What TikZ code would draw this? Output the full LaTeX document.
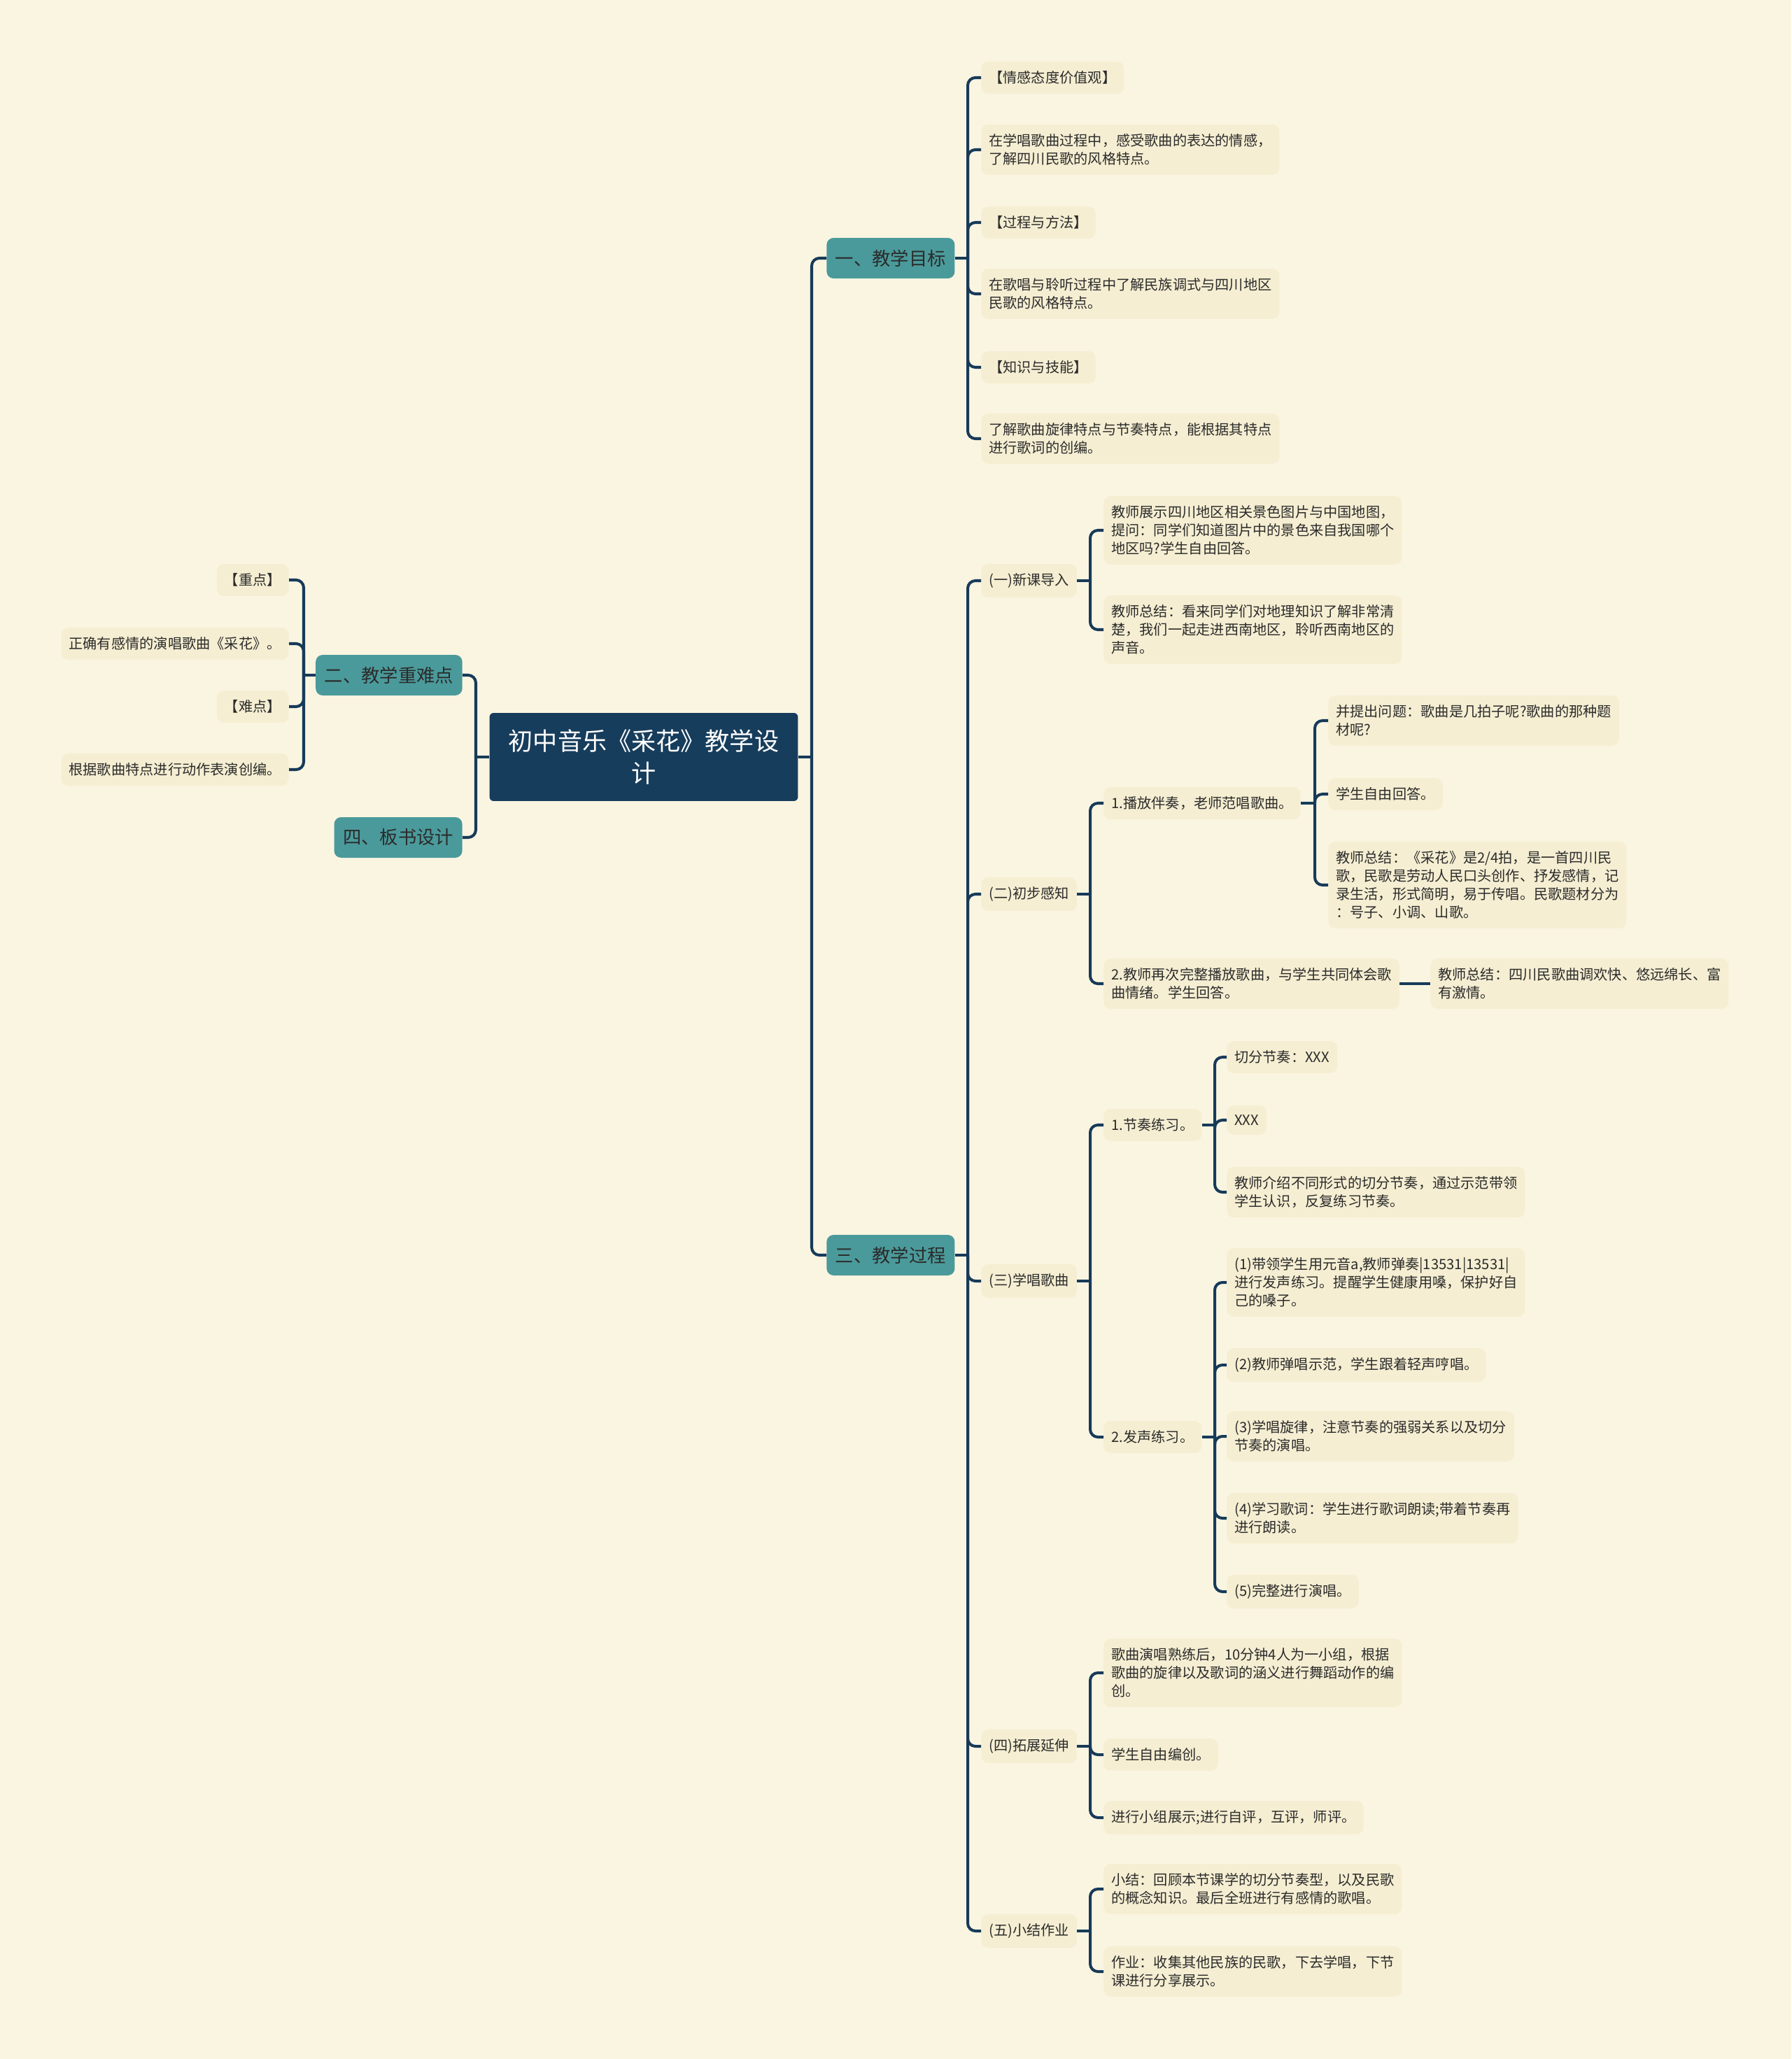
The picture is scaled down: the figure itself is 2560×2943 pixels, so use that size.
\documentclass[tikz,border=0pt]{standalone}
\usepackage{fontspec}
\setmainfont{Noto Sans CJK SC}
\definecolor{bgc}{HTML}{FAF5E1}
\definecolor{leafc}{HTML}{F5EED2}
\definecolor{tealc}{HTML}{4B9A9B}
\definecolor{rootc}{HTML}{173D5C}
\definecolor{linec}{HTML}{173A59}
\definecolor{textc}{HTML}{2B2B2B}
\begin{document}
\begin{tikzpicture}[x=0.02cm,y=-0.02cm,
  rootbox/.style={fill=rootc,text=white,rounded corners=0.12cm,minimum width=8.82cm,minimum height=2.52cm,
    text width=7.9cm,align=center,font=\fontsize{20}{26.7}\selectfont},
  branch/.style={fill=tealc,text=textc,rounded corners=0.2cm,inner xsep=0.25cm,minimum height=1.16cm,
    font=\fontsize{15}{18}\selectfont},
  leaf/.style={fill=leafc,text=textc,rounded corners=0.2cm,inner xsep=0.22cm,inner ysep=0.27cm,
    align=left,anchor=west,font=\fontsize{11.5}{14.8}\selectfont},
  lleaf/.style={leaf,anchor=east},
  link/.style={draw=linec,line width=2.3pt,rounded corners=0.22cm}]
  \fill[bgc] (0,0) rectangle (2560,2943);
  \useasboundingbox (0,0) rectangle (2560,2943);
  % centre and main branches
  \node[rootbox] (root) at (920,1082) {初中音乐《采花》教学设\\计};
  \node[branch,anchor=west] (goal) at (1181,369) {一、教学目标};
  \node[branch,anchor=east] (key) at (661,965) {二、教学重难点};
  \node[branch,anchor=east] (board) at (661,1197) {四、板书设计};
  \node[branch,anchor=west] (proc) at (1181,1794) {三、教学过程};
  \coordinate (jR) at (1160,1082);
  \coordinate (jL) at (680,1082);
  \draw[link] (root.east) -- (jR);
  \draw[link] (root.west) -- (jL);
  \foreach \c in {goal,proc} \draw[link] (jR) |- (\c.west);
  \foreach \c in {key,board} \draw[link] (jL) |- (\c.east);
  % 一、教学目标
  \node[leaf] (g1) at (1402,111) {【情感态度价值观】};
  \node[leaf] (g2) at (1402,214) {在学唱歌曲过程中，感受歌曲的表达的情感，\\了解四川民歌的风格特点。};
  \node[leaf] (g3) at (1402,318) {【过程与方法】};
  \node[leaf] (g4) at (1402,420) {在歌唱与聆听过程中了解民族调式与四川地区\\民歌的风格特点。};
  \node[leaf] (g5) at (1402,525) {【知识与技能】};
  \node[leaf] (g6) at (1402,627) {了解歌曲旋律特点与节奏特点，能根据其特点\\进行歌词的创编。};
  \coordinate (jG) at (1383,369);
  \draw[link] (goal.east) -- (jG);
  \foreach \c in {g1,g2,g3,g4,g5,g6} \draw[link] (jG) |- (\c.west);
  % 二、教学重难点
  \node[lleaf] (k1) at (413,829) {【重点】};
  \node[lleaf] (k2) at (413,920) {正确有感情的演唱歌曲《采花》。};
  \node[lleaf] (k3) at (413,1010) {【难点】};
  \node[lleaf] (k4) at (413,1100) {根据歌曲特点进行动作表演创编。};
  \coordinate (jK) at (434,965);
  \draw[link] (key.west) -- (jK);
  \foreach \c in {k1,k2,k3,k4} \draw[link] (jK) |- (\c.east);
  % 三、教学过程
  \node[leaf] (p1) at (1402,830) {(一)新课导入};
  \node[leaf] (p2) at (1402,1278) {(二)初步感知};
  \node[leaf] (p3) at (1402,1831) {(三)学唱歌曲};
  \node[leaf] (p4) at (1402,2496) {(四)拓展延伸};
  \node[leaf] (p5) at (1402,2760) {(五)小结作业};
  \coordinate (jP) at (1383,1794);
  \draw[link] (proc.east) -- (jP);
  \foreach \c in {p1,p2,p3,p4,p5} \draw[link] (jP) |- (\c.west);
  % (一)
  \node[leaf] (a1) at (1577,758) {教师展示四川地区相关景色图片与中国地图，\\提问：同学们知道图片中的景色来自我国哪个\\地区吗?学生自由回答。};
  \node[leaf] (a2) at (1577,900) {教师总结：看来同学们对地理知识了解非常清\\楚，我们一起走进西南地区，聆听西南地区的\\声音。};
  \coordinate (jA) at (1558,830);
  \draw[link] (p1.east) -- (jA);
  \foreach \c in {a1,a2} \draw[link] (jA) |- (\c.west);
  % (二)
  \node[leaf] (b1) at (1577,1148) {1.播放伴奏，老师范唱歌曲。};
  \node[leaf] (b2) at (1577,1406) {2.教师再次完整播放歌曲，与学生共同体会歌\\曲情绪。学生回答。};
  \coordinate (jB) at (1558,1278);
  \draw[link] (p2.east) -- (jB);
  \foreach \c in {b1,b2} \draw[link] (jB) |- (\c.west);
  \node[leaf] (c1) at (1898,1030) {并提出问题：歌曲是几拍子呢?歌曲的那种题\\材呢?};
  \node[leaf] (c2) at (1898,1135) {学生自由回答。};
  \node[leaf] (c3) at (1898,1265) {教师总结：《采花》是2/4拍，是一首四川民\\歌，民歌是劳动人民口头创作、抒发感情，记\\录生活，形式简明，易于传唱。民歌题材分为\\：号子、小调、山歌。};
  \coordinate (jB1) at (1879,1148);
  \draw[link] (b1.east) -- (jB1);
  \foreach \c in {c1,c2,c3} \draw[link] (jB1) |- (\c.west);
  \node[leaf] (d1) at (2044,1406) {教师总结：四川民歌曲调欢快、悠远绵长、富\\有激情。};
  \draw[link] (b2.east) -- (d1.west);
  % (三)
  \node[leaf] (e1) at (1577,1608) {1.节奏练习。};
  \node[leaf] (e2) at (1577,2054) {2.发声练习。};
  \coordinate (jC) at (1558,1831);
  \draw[link] (p3.east) -- (jC);
  \foreach \c in {e1,e2} \draw[link] (jC) |- (\c.west);
  \node[leaf] (f1) at (1753,1511) {切分节奏：XXX};
  \node[leaf] (f2) at (1753,1601) {XXX};
  \node[leaf] (f3) at (1753,1704) {教师介绍不同形式的切分节奏，通过示范带领\\学生认识，反复练习节奏。};
  \coordinate (jE1) at (1736,1608);
  \draw[link] (e1.east) -- (jE1);
  \foreach \c in {f1,f2,f3} \draw[link] (jE1) |- (\c.west);
  \node[leaf] (h1) at (1753,1833) {(1)带领学生用元音a,教师弹奏|13531|13531|\\进行发声练习。提醒学生健康用嗓，保护好自\\己的嗓子。};
  \node[leaf] (h2) at (1753,1951) {(2)教师弹唱示范，学生跟着轻声哼唱。};
  \node[leaf] (h3) at (1753,2053) {(3)学唱旋律，注意节奏的强弱关系以及切分\\节奏的演唱。};
  \node[leaf] (h4) at (1753,2170) {(4)学习歌词：学生进行歌词朗读;带着节奏再\\进行朗读。};
  \node[leaf] (h5) at (1753,2275) {(5)完整进行演唱。};
  \coordinate (jE2) at (1736,2054);
  \draw[link] (e2.east) -- (jE2);
  \foreach \c in {h1,h2,h3,h4,h5} \draw[link] (jE2) |- (\c.west);
  % (四)
  \node[leaf] (m1) at (1577,2391) {歌曲演唱熟练后，10分钟4人为一小组，根据\\歌曲的旋律以及歌词的涵义进行舞蹈动作的编\\创。};
  \node[leaf] (m2) at (1577,2508) {学生自由编创。};
  \node[leaf] (m3) at (1577,2598) {进行小组展示;进行自评，互评，师评。};
  \coordinate (jD) at (1558,2496);
  \draw[link] (p4.east) -- (jD);
  \foreach \c in {m1,m2,m3} \draw[link] (jD) |- (\c.west);
  % (五)
  \node[leaf] (n1) at (1577,2700) {小结：回顾本节课学的切分节奏型，以及民歌\\的概念知识。最后全班进行有感情的歌唱。};
  \node[leaf] (n2) at (1577,2818) {作业：收集其他民族的民歌，下去学唱，下节\\课进行分享展示。};
  \coordinate (jF) at (1558,2760);
  \draw[link] (p5.east) -- (jF);
  \foreach \c in {n1,n2} \draw[link] (jF) |- (\c.west);
\end{tikzpicture}
\end{document}
